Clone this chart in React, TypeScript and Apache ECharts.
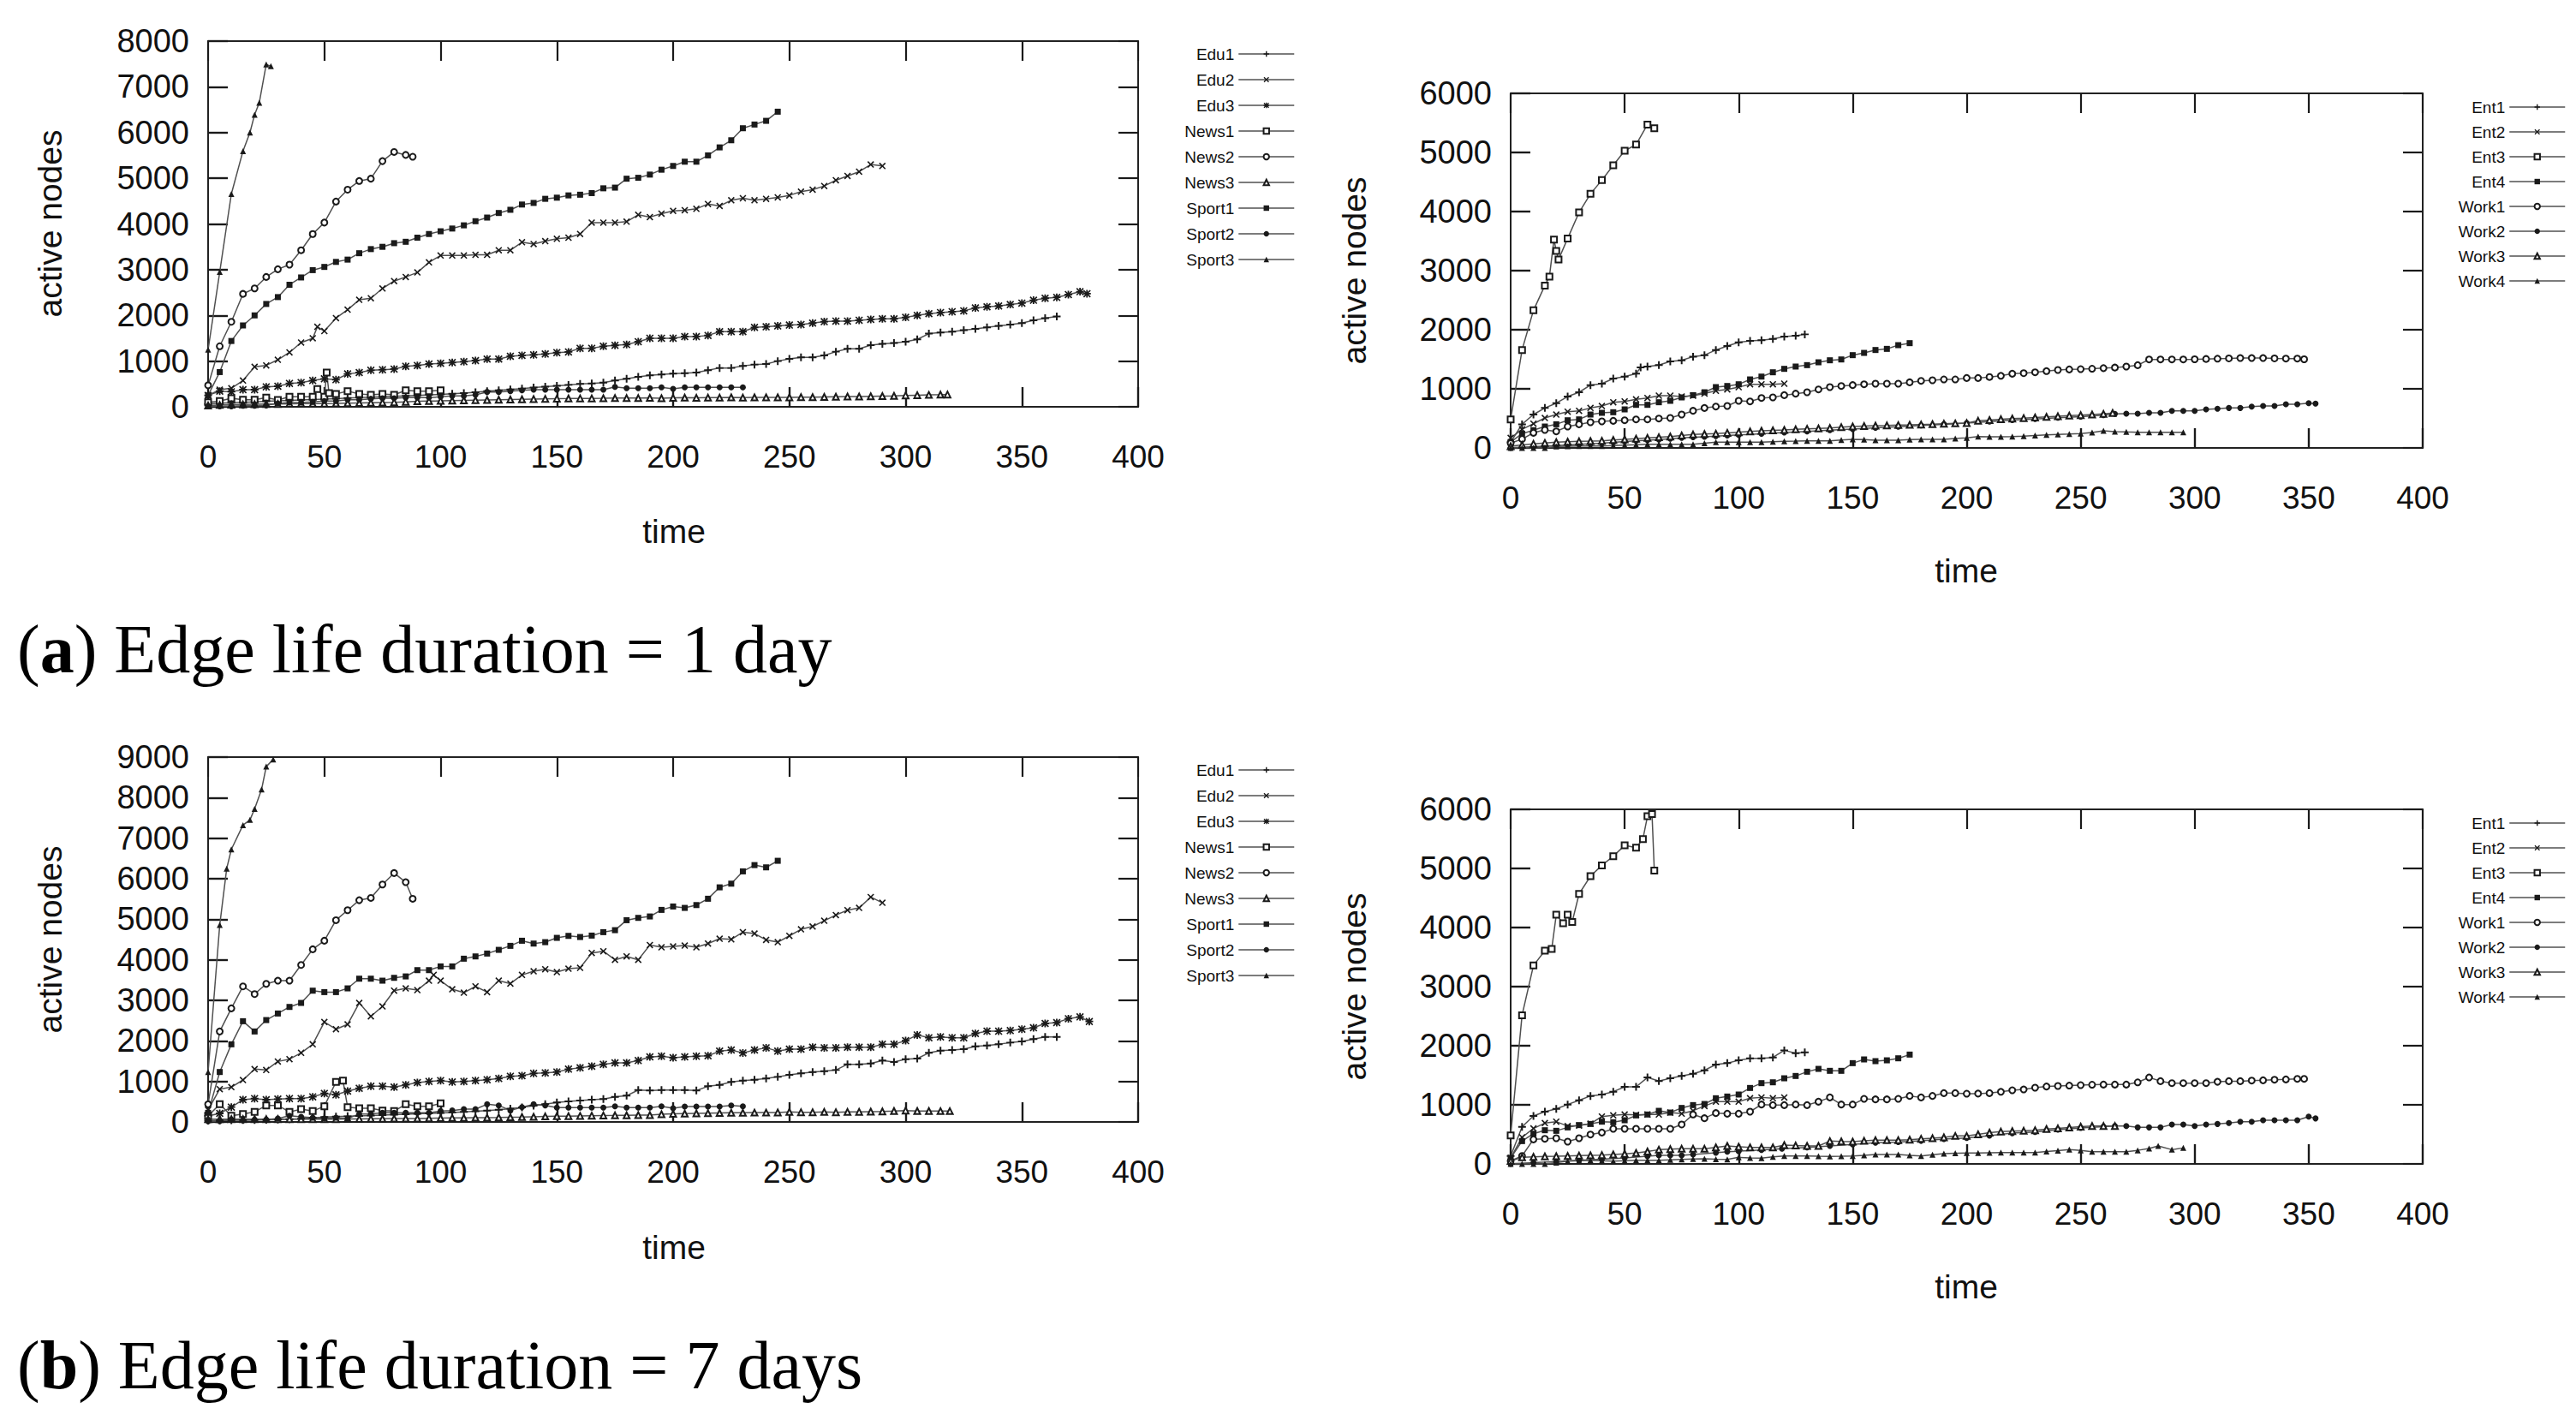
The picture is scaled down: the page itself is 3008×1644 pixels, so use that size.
import React, { useEffect, useRef } from "react";
import * as echarts from "echarts";

type P = [number, number][];

// ---------- tick / label constants ----------
const xTicks = { min: 0, max: 400, interval: 50 };
const yMaxTopLeft = 8000;
const yMaxBottomLeft = 9000;
const yMaxRight = 6000;
const yInterval = 1000;

const namesLeft = ["Edu1", "Edu2", "Edu3", "News1", "News2", "News3", "Sport1", "Sport2", "Sport3"];
const namesRight = ["Ent1", "Ent2", "Ent3", "Ent4", "Work1", "Work2", "Work3", "Work4"];
const captionA = "Edge life duration = 1 day";
const captionB = "Edge life duration = 7 days";

// ---------- (a) 1 day, left panel ----------
const edu1A: P = [[0,60],[5,80],[10,90],[15,100],[20,110],[25,120],[30,130],[35,140],[40,150],[45,160],[50,170],[55,180],[60,190],[65,200],[70,210],[75,220],[80,230],[85,240],[90,250],[95,260],[100,270],[105,285],[110,300],[115,320],[120,340],[125,360],[130,380],[135,400],[140,420],[145,440],[150,460],[155,480],[160,500],[165,512],[170,531],[175,575],[180,612],[185,656],[190,687],[195,706],[200,725],[205,737],[210,750],[215,800],[220,850],[225,850],[230,894],[235,925],[240,937],[245,1000],[250,1050],[255,1081],[260,1081],[265,1125],[270,1206],[275,1269],[280,1269],[285,1350],[290,1375],[295,1394],[300,1425],[305,1475],[310,1600],[315,1625],[320,1644],[325,1675],[330,1706],[335,1737],[340,1769],[345,1800],[350,1831],[355,1894],[360,1937],[365,1975]];
const edu2A: P = [[0,250],[5,375],[10,406],[15,575],[20,875],[25,906],[30,1030],[35,1190],[40,1406],[45,1500],[47,1750],[50,1656],[55,1940],[60,2125],[65,2340],[70,2375],[75,2590],[80,2750],[85,2840],[90,2940],[95,3160],[100,3310],[105,3310],[110,3310],[115,3325],[120,3325],[125,3425],[130,3425],[135,3600],[140,3560],[145,3625],[150,3675],[155,3700],[160,3780],[165,4030],[170,4030],[175,4030],[180,4050],[185,4200],[190,4150],[195,4225],[200,4287],[205,4300],[210,4331],[215,4437],[220,4394],[225,4519],[230,4562],[235,4519],[240,4550],[245,4581],[250,4625],[255,4706],[260,4750],[265,4831],[270,4956],[275,5050],[280,5144],[285,5300],[290,5269]];
const edu3A: P = [[0,250],[5,344],[10,330],[15,375],[20,375],[25,437],[30,450],[35,512],[40,531],[45,575],[50,612],[55,594],[60,719],[65,750],[70,800],[75,812],[80,825],[85,887],[90,906],[95,937],[100,950],[105,969],[110,987],[115,1012],[120,1044],[125,1044],[130,1106],[135,1125],[140,1137],[145,1156],[150,1187],[155,1200],[160,1281],[165,1281],[170,1325],[175,1344],[180,1362],[185,1425],[190,1500],[195,1500],[200,1500],[205,1537],[210,1537],[215,1562],[220,1644],[225,1644],[230,1644],[235,1737],[240,1750],[245,1769],[250,1787],[255,1800],[260,1831],[265,1862],[270,1875],[275,1875],[280,1894],[285,1912],[290,1925],[295,1925],[300,1956],[305,2000],[310,2037],[315,2062],[320,2081],[325,2100],[330,2162],[335,2187],[340,2206],[345,2237],[350,2269],[355,2331],[360,2375],[365,2394],[370,2456],[375,2519],[378,2475]];
const news1A: P = [[0,100],[5,125],[10,187],[15,156],[20,156],[25,200],[30,150],[35,219],[40,219],[45,219],[47,387],[50,219],[51,750],[52,300],[55,281],[60,344],[65,281],[70,262],[75,281],[80,262],[85,362],[90,344],[95,344],[100,362]];
const news2A: P = [[0,470],[5,1325],[10,1860],[15,2470],[20,2590],[25,2840],[30,3010],[35,3110],[40,3425],[45,3780],[50,4030],[55,4490],[60,4750],[65,4940],[70,4990],[75,5375],[80,5575],[85,5510],[88,5470]];
const news3A: P = [[0,30],[5,40],[10,45],[15,50],[20,55],[25,60],[30,62],[35,65],[40,68],[45,70],[50,72],[55,75],[60,80],[65,85],[70,90],[75,95],[80,100],[85,110],[90,120],[95,125],[100,130],[105,135],[110,140],[115,145],[120,150],[125,155],[130,160],[135,165],[140,170],[145,175],[150,180],[155,182],[160,185],[165,185],[170,187],[175,190],[180,190],[185,190],[190,195],[195,187],[200,195],[205,200],[210,195],[215,200],[220,200],[225,205],[230,200],[235,205],[240,205],[245,205],[250,206],[255,210],[260,210],[265,215],[270,220],[275,225],[280,225],[285,230],[290,235],[295,240],[300,250],[305,255],[310,260],[315,265],[318,269]];
const sport1A: P = [[0,250],[5,760],[10,1440],[15,1780],[20,2000],[25,2250],[30,2400],[35,2670],[40,2830],[45,2990],[50,3060],[55,3170],[60,3220],[65,3360],[70,3450],[75,3500],[80,3580],[85,3610],[90,3700],[95,3780],[100,3840],[105,3900],[110,3970],[115,4060],[120,4140],[125,4240],[130,4310],[135,4425],[140,4460],[145,4550],[150,4575],[155,4625],[160,4640],[165,4675],[170,4780],[175,4795],[180,4990],[185,5010],[190,5080],[195,5187],[200,5269],[205,5362],[210,5362],[215,5500],[220,5675],[225,5831],[230,6094],[235,6175],[240,6256],[245,6456]];
const sport2A: P = [[0,12],[5,12],[10,12],[15,25],[20,25],[25,31],[30,75],[35,94],[40,94],[45,106],[50,125],[55,125],[60,156],[65,156],[70,175],[75,187],[80,187],[85,200],[90,200],[95,200],[100,219],[105,237],[110,237],[115,262],[120,325],[125,325],[130,344],[135,362],[140,375],[145,375],[150,375],[155,375],[160,375],[165,375],[170,375],[175,437],[180,406],[185,406],[190,406],[195,425],[200,394],[205,425],[210,425],[215,425],[220,425],[225,425],[230,425]];
const sport3A: P = [[0,1250],[5,2950],[10,4656],[15,5594],[18,6000],[20,6390],[22,6650],[25,7490],[27,7450]];

// ---------- (a) 1 day, right panel ----------
const ent1A: P = [[0,97],[5,400],[10,565],[15,676],[20,758],[25,869],[30,942],[35,1063],[40,1087],[45,1174],[50,1207],[55,1256],[57,1362],[60,1377],[65,1401],[70,1464],[75,1483],[80,1545],[85,1570],[90,1657],[95,1724],[100,1787],[105,1811],[110,1821],[115,1845],[120,1884],[125,1898],[129,1922]];
const ent2A: P = [[0,170],[5,314],[10,410],[15,507],[20,565],[25,613],[30,628],[35,676],[40,710],[45,773],[50,787],[55,821],[60,845],[65,884],[70,884],[75,870],[80,884],[85,920],[90,966],[95,990],[100,1029],[105,1077],[110,1077],[115,1077],[120,1087]];
const ent3A: P = [[0,483],[5,1657],[10,2328],[15,2748],[17,2900],[19,3526],[20,3333],[21,3188],[25,3545],[30,3985],[35,4299],[40,4531],[45,4782],[50,5028],[55,5134],[60,5472],[63,5410]];
const ent4A: P = [[0,100],[5,241],[10,300],[15,362],[20,400],[25,468],[30,483],[35,565],[40,594],[45,604],[50,652],[55,729],[60,729],[65,773],[70,797],[75,855],[80,893],[85,942],[90,1029],[95,1048],[100,1077],[105,1159],[110,1207],[115,1280],[120,1338],[125,1377],[130,1401],[135,1449],[140,1483],[145,1497],[150,1570],[155,1608],[160,1657],[165,1676],[170,1739],[175,1773]];
const work1A: P = [[0,80],[5,150],[10,256],[15,304],[20,280],[25,362],[30,400],[35,435],[40,449],[45,459],[50,468],[55,483],[60,483],[65,497],[70,507],[75,565],[80,628],[85,676],[90,700],[95,710],[100,797],[105,787],[110,845],[115,855],[120,893],[125,918],[130,942],[135,990],[140,1029],[145,1048],[150,1063],[155,1077],[160,1087],[165,1087],[170,1087],[175,1110],[180,1135],[185,1145],[190,1159],[195,1159],[200,1183],[205,1183],[210,1200],[215,1220],[220,1256],[225,1265],[230,1280],[235,1300],[240,1319],[245,1328],[250,1333],[255,1340],[260,1350],[265,1360],[270,1377],[275,1400],[280,1497],[285,1497],[290,1497],[295,1497],[300,1500],[305,1505],[310,1510],[315,1515],[320,1521],[325,1521],[330,1521],[335,1515],[340,1512],[345,1512],[348,1500]];
const work2A: P = [[0,0],[5,10],[10,20],[15,30],[20,40],[25,50],[30,60],[35,70],[40,80],[45,95],[50,110],[55,120],[60,130],[65,140],[70,155],[75,170],[80,180],[85,190],[90,200],[95,210],[100,220],[110,240],[120,260],[130,280],[140,300],[150,320],[160,340],[170,360],[180,380],[190,400],[200,420],[210,445],[220,470],[230,490],[240,510],[250,530],[260,555],[265,575],[270,580],[275,580],[280,594],[285,594],[290,628],[295,628],[300,628],[305,652],[310,662],[315,676],[320,676],[325,700],[330,710],[335,710],[340,739],[345,739],[350,758],[353,750]];
const work3A: P = [[0,30],[5,50],[10,70],[15,85],[20,97],[25,105],[30,111],[35,115],[40,121],[45,135],[50,145],[55,155],[60,169],[65,180],[70,193],[75,210],[80,227],[85,235],[90,241],[95,255],[100,266],[105,278],[110,290],[115,297],[120,304],[125,314],[130,324],[135,330],[140,338],[145,350],[150,362],[155,370],[160,377],[165,380],[170,386],[175,390],[180,396],[185,402],[190,410],[195,415],[200,420],[205,459],[210,470],[215,485],[220,497],[225,505],[230,515],[235,525],[240,535],[245,546],[250,555],[255,565],[260,575],[264,590]];
const work4A: P = [[0,0],[5,0],[10,0],[15,0],[20,24],[25,30],[30,34],[35,34],[40,34],[45,40],[50,48],[55,55],[60,63],[65,63],[70,63],[75,63],[80,63],[85,80],[90,97],[95,97],[100,97],[105,97],[110,97],[115,105],[120,111],[125,115],[130,121],[135,121],[140,121],[145,135],[150,145],[155,140],[160,130],[165,130],[170,130],[175,140],[180,145],[185,145],[190,145],[195,160],[200,169],[205,193],[210,190],[215,190],[220,193],[225,200],[230,210],[235,220],[240,230],[245,235],[250,241],[255,260],[260,290],[265,275],[270,270],[275,266],[280,266],[285,266],[290,266],[295,266]];

// ---------- (b) 7 days, left panel ----------
const edu1B: P = [[0,30],[5,35],[10,40],[15,45],[20,50],[25,55],[30,60],[35,70],[40,80],[45,100],[50,120],[55,130],[60,140],[65,150],[70,160],[75,170],[80,180],[85,190],[90,200],[95,210],[100,220],[105,235],[110,250],[115,265],[120,280],[125,300],[130,330],[135,360],[140,400],[145,440],[150,480],[155,507],[160,528],[165,549],[170,563],[175,620],[180,648],[185,788],[190,774],[195,788],[200,788],[205,788],[210,774],[215,880],[220,915],[225,986],[230,1021],[235,1042],[240,1070],[245,1112],[250,1162],[255,1197],[260,1232],[265,1253],[270,1281],[275,1422],[280,1422],[285,1443],[290,1514],[295,1478],[300,1549],[305,1563],[310,1704],[315,1760],[320,1774],[325,1795],[330,1866],[335,1887],[340,1915],[345,1957],[350,1985],[355,2042],[360,2098],[365,2098]];
const edu2B: P = [[0,300],[5,810],[10,859],[15,1035],[20,1302],[25,1281],[30,1492],[35,1549],[40,1704],[45,1915],[50,2464],[55,2288],[60,2408],[65,2936],[70,2605],[75,2851],[80,3238],[85,3295],[90,3252],[95,3485],[97,3626],[100,3485],[105,3274],[110,3189],[115,3344],[120,3203],[125,3485],[130,3414],[135,3626],[140,3717],[145,3766],[150,3696],[155,3780],[160,3802],[165,4168],[170,4210],[175,4000],[180,4083],[185,4000],[190,4365],[195,4308],[200,4330],[205,4350],[210,4308],[215,4400],[220,4520],[225,4505],[230,4682],[235,4646],[240,4491],[245,4435],[250,4590],[255,4752],[260,4822],[265,4963],[270,5104],[275,5224],[280,5280],[285,5547],[290,5407]];
const edu3B: P = [[0,150],[5,211],[10,366],[15,549],[20,577],[25,549],[30,563],[35,577],[40,577],[45,620],[50,704],[55,669],[60,760],[65,831],[70,880],[75,880],[80,859],[85,915],[90,971],[95,1000],[100,1021],[105,986],[110,1000],[115,1021],[120,1042],[125,1070],[130,1126],[135,1140],[140,1197],[145,1211],[150,1232],[155,1302],[160,1337],[165,1373],[170,1422],[175,1457],[180,1457],[185,1514],[190,1605],[195,1619],[200,1584],[205,1605],[210,1619],[215,1633],[220,1746],[225,1774],[230,1703],[235,1774],[240,1830],[245,1746],[250,1795],[255,1795],[260,1844],[265,1830],[270,1830],[275,1844],[280,1844],[285,1844],[290,1915],[295,1915],[300,2006],[305,2147],[310,2077],[315,2098],[320,2077],[325,2077],[330,2182],[335,2238],[340,2238],[345,2253],[350,2288],[355,2323],[360,2429],[365,2450],[370,2548],[375,2591],[379,2478]];
const news1B: P = [[0,150],[5,436],[10,155],[15,197],[20,246],[25,408],[30,408],[35,246],[40,317],[45,267],[50,387],[55,986],[58,1021],[60,366],[65,338],[70,338],[75,282],[80,267],[85,436],[90,387],[95,387],[100,458]];
const news2B: P = [[0,436],[5,2232],[10,2802],[15,3344],[20,3154],[25,3407],[30,3485],[35,3485],[40,3872],[45,4259],[50,4470],[55,4977],[60,5224],[65,5470],[70,5526],[75,5857],[80,6139],[85,5914],[88,5505]];
const news3B: P = [[0,70],[5,70],[10,70],[15,70],[20,70],[25,70],[30,70],[35,70],[40,70],[45,70],[50,70],[55,70],[60,75],[65,75],[70,80],[75,80],[80,84],[85,84],[90,84],[95,90],[100,95],[105,98],[110,100],[115,103],[120,106],[125,110],[130,115],[135,120],[140,127],[145,135],[150,141],[155,145],[160,150],[165,155],[170,160],[175,162],[180,165],[185,168],[190,170],[195,190],[200,200],[205,205],[210,210],[215,215],[220,220],[225,225],[230,225],[235,230],[240,230],[245,235],[250,246],[255,240],[260,240],[265,246],[270,240],[275,246],[280,250],[285,255],[290,260],[295,270],[300,282],[305,270],[310,270],[315,267],[319,267]];
const sport1B: P = [[0,225],[5,1232],[10,1915],[15,2485],[20,2232],[25,2513],[30,2675],[35,2837],[40,2936],[45,3238],[50,3203],[55,3203],[60,3295],[65,3534],[70,3534],[75,3485],[80,3555],[85,3590],[90,3745],[95,3745],[100,3837],[105,3837],[110,4027],[115,4083],[120,4154],[125,4245],[130,4344],[135,4470],[140,4400],[145,4435],[150,4541],[155,4590],[160,4562],[165,4597],[170,4682],[175,4731],[180,4977],[185,5034],[190,5069],[195,5231],[200,5315],[205,5280],[210,5350],[215,5506],[220,5787],[225,5878],[230,6181],[235,6336],[240,6280],[245,6442]];
const sport2B: P = [[0,14],[5,20],[10,56],[15,40],[20,56],[25,56],[30,84],[35,155],[40,127],[45,106],[50,84],[55,106],[60,84],[65,197],[70,197],[75,225],[80,225],[85,225],[90,225],[95,225],[100,267],[105,282],[110,317],[115,317],[120,436],[125,408],[130,282],[135,366],[140,436],[145,408],[150,352],[155,352],[160,352],[165,352],[170,352],[175,387],[180,352],[185,352],[190,352],[195,387],[200,338],[205,380],[210,380],[215,380],[220,380],[225,408],[230,387]];
const sport3B: P = [[0,1232],[5,4858],[8,6250],[10,6723],[15,7322],[18,7450],[20,7723],[23,8200],[25,8765],[28,8940]];

// ---------- (b) 7 days, right panel ----------
const ent1B: P = [[0,135],[5,628],[10,811],[15,884],[20,932],[25,1005],[30,1077],[35,1150],[40,1174],[45,1222],[50,1304],[55,1304],[60,1463],[65,1401],[70,1449],[75,1488],[80,1526],[85,1584],[90,1681],[95,1705],[100,1753],[105,1787],[110,1787],[115,1802],[120,1922],[125,1874],[129,1889]];
const ent2B: P = [[0,100],[5,450],[10,600],[15,691],[20,715],[25,640],[30,650],[35,680],[40,802],[45,821],[50,836],[55,830],[60,836],[65,836],[70,869],[75,850],[80,900],[85,980],[90,1053],[95,1053],[100,1053],[105,1111],[110,1125],[115,1111],[120,1125]];
const ent3B: P = [[0,483],[5,2516],[10,3357],[15,3608],[18,3637],[20,4217],[23,4072],[25,4217],[27,4096],[30,4569],[35,4869],[40,5052],[45,5207],[50,5390],[55,5352],[58,5497],[60,5883],[62,5921],[63,4965]];
const ent4B: P = [[0,100],[5,386],[10,512],[15,570],[20,560],[25,618],[30,657],[35,676],[40,715],[45,705],[50,739],[55,821],[60,836],[65,898],[70,869],[75,947],[80,995],[85,1014],[90,1111],[95,1140],[100,1174],[105,1285],[110,1367],[115,1381],[120,1449],[125,1488],[130,1560],[135,1608],[140,1575],[145,1575],[150,1705],[155,1768],[160,1739],[165,1753],[170,1787],[175,1850]];
const work1B: P = [[0,50],[5,135],[10,415],[15,425],[20,435],[25,377],[30,435],[35,497],[40,531],[45,594],[50,594],[55,594],[60,594],[65,594],[70,594],[75,667],[80,836],[85,773],[90,860],[95,850],[100,850],[105,884],[110,1005],[115,995],[120,995],[125,1005],[130,995],[135,1053],[140,1125],[145,1005],[150,1005],[155,1101],[160,1092],[165,1092],[170,1101],[175,1150],[180,1125],[185,1150],[190,1198],[195,1198],[200,1188],[205,1190],[210,1198],[215,1220],[220,1246],[225,1260],[230,1290],[235,1310],[240,1319],[245,1325],[250,1333],[255,1340],[260,1343],[265,1343],[270,1343],[275,1380],[280,1463],[285,1400],[290,1367],[295,1367],[300,1367],[305,1367],[310,1390],[315,1400],[320,1400],[325,1410],[330,1415],[335,1425],[340,1430],[345,1439],[348,1439]];
const work2B: P = [[0,0],[10,20],[20,40],[30,60],[40,80],[50,100],[60,130],[65,145],[70,145],[75,145],[80,160],[90,190],[95,208],[100,215],[110,235],[119,256],[130,280],[140,304],[150,330],[160,360],[170,370],[180,390],[190,420],[200,440],[210,480],[220,520],[230,540],[240,580],[250,610],[260,630],[265,640],[270,642],[275,618],[280,618],[285,618],[290,667],[295,667],[300,642],[305,667],[310,676],[315,691],[320,715],[325,715],[330,739],[335,739],[340,739],[345,739],[350,802],[353,770]];
const work3B: P = [[0,50],[5,111],[10,120],[15,126],[20,130],[25,135],[30,140],[35,145],[40,150],[45,159],[50,170],[55,184],[60,210],[65,241],[70,250],[75,256],[80,256],[85,256],[90,280],[95,304],[100,290],[105,280],[110,280],[115,280],[120,319],[125,310],[130,304],[135,304],[140,386],[145,380],[150,377],[155,390],[160,401],[165,401],[170,401],[175,410],[180,425],[185,435],[190,449],[195,473],[200,473],[205,500],[210,530],[215,546],[220,555],[225,560],[230,570],[235,590],[240,600],[245,615],[250,630],[255,642],[260,642],[265,642]];
const work4B: P = [[0,0],[5,0],[10,0],[15,0],[20,20],[25,48],[30,55],[35,63],[40,55],[45,48],[50,55],[55,63],[60,63],[65,63],[70,70],[75,77],[80,82],[85,87],[90,80],[95,77],[100,111],[105,100],[110,97],[115,120],[120,135],[125,135],[130,135],[135,130],[140,126],[145,130],[150,135],[155,145],[160,159],[165,159],[170,159],[175,145],[180,135],[185,155],[190,174],[195,180],[200,184],[205,184],[210,190],[215,193],[220,193],[225,193],[230,193],[235,210],[240,225],[245,241],[250,230],[255,208],[260,208],[265,208],[270,208],[275,230],[280,260],[284,304],[290,241],[295,270]];

// ---------- styling ----------
const FONT = "Liberation Sans";
const SERIF = "Liberation Serif";
const INK = "#111";
const LINE = "#505050";
const TICK = "#1a1a1a";

const SYM: Record<string, { symbol: string; size: number; empty?: boolean }> = {
  plus: { symbol: "path://M0,3.9H10V6.1H0Z M3.9,0H6.1V10H3.9Z", size: 9 },
  cross: { symbol: "path://M1.4,0L10,8.6L8.6,10L0,1.4Z M8.6,0L10,1.4L1.4,10L0,8.6Z", size: 8 },
  star: { symbol: "path://M0,4H10V6H0Z M4,0H6V10H4Z M1.3,0L10,8.7L8.7,10L0,1.3Z M8.7,0L10,1.3L1.3,10L0,8.7Z", size: 9 },
  oRect: { symbol: "emptyRect", size: 7, empty: true },
  oCircle: { symbol: "emptyCircle", size: 7, empty: true },
  oTri: { symbol: "emptyTriangle", size: 7, empty: true },
  rect: { symbol: "rect", size: 7 },
  circle: { symbol: "circle", size: 7 },
  tri: { symbol: "triangle", size: 7 },
};

const symLeft = ["plus", "cross", "star", "oRect", "oCircle", "oTri", "rect", "circle", "tri"];
const symRight = ["plus", "cross", "oRect", "rect", "oCircle", "circle", "oTri", "tri"];

const grids = [
  { left: 235, top: 40, width: 1086, height: 427, ymax: yMaxTopLeft },
  { left: 1756, top: 101, width: 1065, height: 414, ymax: yMaxRight },
  { left: 235, top: 876, width: 1086, height: 426, ymax: yMaxBottomLeft },
  { left: 1756, top: 937, width: 1065, height: 414, ymax: yMaxRight },
];

const AX_PER_GRID = 3;

function makeSeries(name: string, data: P, g: number, symKey: string) {
  const s = SYM[symKey];
  return {
    type: "line",
    name,
    data,
    xAxisIndex: g * AX_PER_GRID,
    yAxisIndex: g * AX_PER_GRID,
    symbol: s.symbol,
    symbolSize: s.size,
    showSymbol: true,
    showAllSymbol: true,
    silent: true,
    lineStyle: { color: LINE, width: 1.5 },
    itemStyle: { color: "#1a1a1a", borderColor: "#1a1a1a", borderWidth: s.empty ? 1.3 : 0 },
    emphasis: { disabled: true },
  };
}

export default function App() {
  const ref = useRef<HTMLDivElement>(null);
  useEffect(() => {
    if (!ref.current) return;
    const chart = echarts.init(ref.current, undefined, { renderer: "svg" });

    const xAxis: any[] = [];
    const yAxis: any[] = [];
    const axisLine = () => ({ show: true, onZero: false, lineStyle: { color: "#222", width: 2 } });
    const tick = () => ({ show: true, inside: true, length: 23, lineStyle: { color: TICK, width: 2.2 } });
    const fmt = (v: number) => String(v);
    grids.forEach((g, i) => {
      // labelled axes (series attach here)
      xAxis.push({
        type: "value", gridIndex: i, position: "bottom", ...xTicks,
        axisLine: axisLine(), axisTick: tick(), splitLine: { show: false },
        axisLabel: { show: true, margin: 40, color: INK, fontFamily: FONT, fontSize: 37, formatter: fmt },
      });
      // tick-only axes (mirror on top, inner ticks on bottom)
      xAxis.push({
        type: "value", gridIndex: i, position: "top", ...xTicks,
        axisLine: axisLine(), axisTick: tick(), splitLine: { show: false }, axisLabel: { show: false },
      });
      xAxis.push({
        type: "value", gridIndex: i, position: "bottom", ...xTicks,
        axisLine: axisLine(), axisTick: tick(), splitLine: { show: false }, axisLabel: { show: false },
      });
      yAxis.push({
        type: "value", gridIndex: i, position: "left", min: 0, max: g.ymax, interval: yInterval,
        axisLine: axisLine(), axisTick: tick(), splitLine: { show: false },
        axisLabel: { show: true, margin: 22, color: INK, fontFamily: FONT, fontSize: 38, formatter: fmt },
      });
      yAxis.push({
        type: "value", gridIndex: i, position: "right", min: 0, max: g.ymax, interval: yInterval,
        axisLine: axisLine(), axisTick: tick(), splitLine: { show: false }, axisLabel: { show: false },
      });
      yAxis.push({
        type: "value", gridIndex: i, position: "left", min: 0, max: g.ymax, interval: yInterval,
        axisLine: axisLine(), axisTick: tick(), splitLine: { show: false }, axisLabel: { show: false },
      });
    });

    const dataAL = [edu1A, edu2A, edu3A, news1A, news2A, news3A, sport1A, sport2A, sport3A];
    const dataAR = [ent1A, ent2A, ent3A, ent4A, work1A, work2A, work3A, work4A];
    const dataBL = [edu1B, edu2B, edu3B, news1B, news2B, news3B, sport1B, sport2B, sport3B];
    const dataBR = [ent1B, ent2B, ent3B, ent4B, work1B, work2B, work3B, work4B];

    const series: any[] = [];
    namesLeft.forEach((n, k) => series.push(makeSeries(n, dataAL[k], 0, symLeft[k])));
    namesRight.forEach((n, k) => series.push(makeSeries(n, dataAR[k], 1, symRight[k])));
    namesLeft.forEach((n, k) => series.push(makeSeries(n, dataBL[k], 2, symLeft[k])));
    namesRight.forEach((n, k) => series.push(makeSeries(n, dataBR[k], 3, symRight[k])));

    const legendBase = {
      orient: "vertical",
      align: "right",
      padding: 0,
      itemWidth: 65,
      itemHeight: 8,
      selectedMode: false,
      textStyle: { color: INK, fontFamily: FONT, fontSize: 19, lineHeight: 20 },
      lineStyle: { width: 1.5, color: LINE },
    };
    const legend = [
      { ...legendBase, data: namesLeft, right: 1504, top: 45, itemGap: 10 },
      { ...legendBase, data: namesRight, right: 20, top: 107, itemGap: 9 },
      { ...legendBase, data: namesLeft, right: 1504, top: 881, itemGap: 10 },
      { ...legendBase, data: namesRight, right: 20, top: 943, itemGap: 9 },
    ];

    const axisTitle = (text: string, x: number, y: number, rot: number) => ({
      type: "text", x, y, rotation: rot, silent: true,
      style: { text, fill: INK, font: `39px '${FONT}'`, align: "center", verticalAlign: "middle" },
    });
    const caption = (letter: string, text: string, y: number) => ({
      type: "text", x: 12, y, silent: true,
      style: {
        text: `{n|(}{b|${letter}}{n|) ${text}}`,
        align: "left",
        verticalAlign: "middle",
        rich: {
          n: { fontFamily: SERIF, fontSize: 80, color: INK },
          b: { fontFamily: SERIF, fontSize: 80, fontWeight: "bold", color: INK },
        },
      },
    });

    const graphic = [
      axisTitle("active nodes", 50, 253, Math.PI / 2),
      axisTitle("time", 779, 612, 0),
      axisTitle("active nodes", 1573, 308, Math.PI / 2),
      axisTitle("time", 2288, 658, 0),
      axisTitle("active nodes", 50, 1089, Math.PI / 2),
      axisTitle("time", 779, 1448, 0),
      axisTitle("active nodes", 1573, 1144, Math.PI / 2),
      axisTitle("time", 2288, 1494, 0),
      caption("a", captionA, 750),
      caption("b", captionB, 1586),
    ];

    chart.setOption({
      animation: false,
      backgroundColor: "#fff",
      grid: grids.map((g) => ({ left: g.left, top: g.top, width: g.width, height: g.height, show: false, containLabel: false, outerBoundsMode: "none" })),
      xAxis,
      yAxis,
      legend,
      series,
      graphic,
      tooltip: { show: false },
    });
    return () => chart.dispose();
  }, []);
  return <div ref={ref} style={{ position: "fixed", left: 0, top: 0, width: 3008, height: 1644, background: "#fff" }} />;
}
